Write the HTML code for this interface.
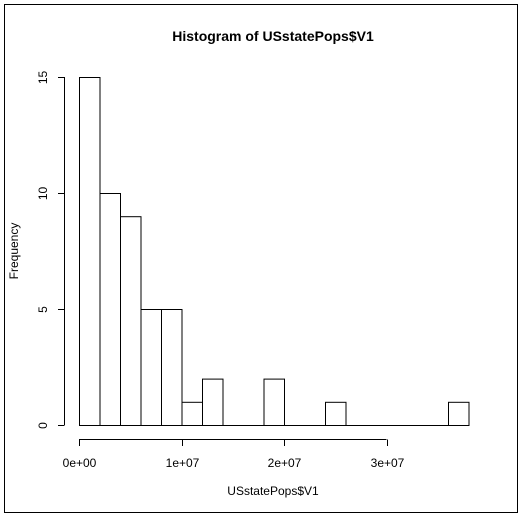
<!DOCTYPE html>
<html><head><meta charset="utf-8"><style>body{margin:0;background:#fff}svg{display:block}text{font-family:"Liberation Sans",sans-serif;fill:#000}</style></head>
<body>
<svg id="chart" width="523" height="516" viewBox="0 0 523 516">
<rect x="4.5" y="4.5" width="513" height="508" fill="none" stroke="#000" stroke-width="1"/>
<text x="273" y="41" text-anchor="middle" font-size="14" font-weight="bold">Histogram of USstatePops$V1</text>
<text x="273" y="495" text-anchor="middle" font-size="12">USstatePops$V1</text>
<text transform="translate(18,251) rotate(-90)" text-anchor="middle" font-size="12">Frequency</text>
<g id="bars"></g><g id="xaxis"></g><g id="yaxis"></g>
</svg>
<script>
const binStarts=[0,2,4,6,8,10,12,14,16,18,20,22,24,26,28,30,32,34,36];
const counts=[15,10,9,5,5,1,2,0,0,2,0,0,1,0,0,0,0,0,1];
const binWidth=2;
const xTicks=[0,10,20,30];
const xTickLabels=["0e+00","1e+07","2e+07","3e+07"];
const yTicks=[0,5,10,15];
const NS="http://www.w3.org/2000/svg";
const xs=v=>79+v*10.25;
const ys=v=>425-v*23.2;
function mk(tag,attrs,parent){const e=document.createElementNS(NS,tag);for(const k in attrs)e.setAttribute(k,attrs[k]);parent.appendChild(e);return e;}
const bars=document.getElementById('bars');
const base=mk('line',{x1:xs(binStarts[0]),x2:xs(binStarts[binStarts.length-1]+binWidth)+1,y1:ys(0)+0.5,y2:ys(0)+0.5,stroke:'#000'},bars);


binStarts.forEach((b,i)=>{
  const r=mk('rect',{x:xs(b)+0.5,y:ys(counts[i])+0.5,width:xs(b+binWidth)-xs(b),height:ys(0)-ys(counts[i]),fill:'none',stroke:'#000','stroke-width':1},bars);
  
  
});
const xa=document.getElementById('xaxis');
const xl=mk('line',{x1:xs(xTicks[0]),x2:xs(xTicks[xTicks.length-1]),y1:439.5,y2:439.5,stroke:'#000'},xa);


xTicks.forEach((t,i)=>{
  const x=Math.round(xs(t))+0.5;
  const tk=mk('line',{x1:x,x2:x,y1:439.5,y2:446,stroke:'#000'},xa);
  
  
  const tx=mk('text',{x:x,y:467,'text-anchor':'middle','font-size':12},xa);
  tx.textContent=xTickLabels[i];
  
  
});
const ya=document.getElementById('yaxis');
const yl=mk('line',{x1:64.5,x2:64.5,y1:ys(yTicks[0]),y2:ys(yTicks[yTicks.length-1]),stroke:'#000'},ya);


yTicks.forEach(t=>{
  const y=Math.round(ys(t))+0.5;
  const tk=mk('line',{x1:58,x2:64.5,y1:y,y2:y,stroke:'#000'},ya);
  
  
  const tx=mk('text',{transform:`translate(47,${y}) rotate(-90)`,'text-anchor':'middle','font-size':12},ya);
  tx.textContent=String(t);
  
  
});
</script>
</body></html>
